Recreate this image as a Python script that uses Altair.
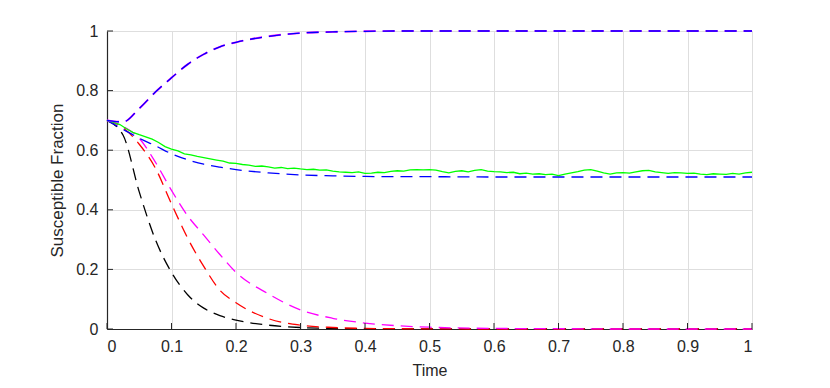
import altair as alt
import pandas as pd

# ---- data ----
t_main = [0.0, 0.025, 0.05, 0.075, 0.1, 0.125, 0.15, 0.175, 0.2, 0.25, 0.3, 0.35, 0.4, 0.45, 0.5, 0.6, 0.7, 0.8, 0.9, 1.0]
black = [0.70, 0.65, 0.46, 0.30, 0.19, 0.115, 0.07, 0.045, 0.03, 0.013, 0.005, 0.002, 0.001, 0.0005, 0.0, 0.0, 0.0, 0.0, 0.0, 0.0]
red = [0.70, 0.675, 0.62, 0.54, 0.42, 0.305, 0.21, 0.13, 0.088, 0.035, 0.013, 0.005, 0.002, 0.001, 0.0005, 0.0, 0.0, 0.0, 0.0, 0.0]
magenta_low = [0.70, 0.68, 0.64, 0.56, 0.465, 0.38, 0.315, 0.25, 0.19, 0.118, 0.064, 0.036, 0.02, 0.011, 0.006, 0.002, 0.001, 0.0, 0.0, 0.0]
blue_low = [0.70, 0.67, 0.64, 0.615, 0.588, 0.568, 0.553, 0.543, 0.535, 0.524, 0.517, 0.514, 0.512, 0.511, 0.511, 0.51, 0.51, 0.51, 0.51, 0.51]
top_curve = [0.70, 0.695, 0.74, 0.795, 0.843, 0.888, 0.922, 0.947, 0.962, 0.982, 0.993, 0.997, 0.999, 1.0, 1.0, 1.0, 1.0, 1.0, 1.0, 1.0]

t_green = [round(i * 0.01, 2) for i in range(101)]
green = [0.70, 0.693, 0.686, 0.672, 0.66, 0.652, 0.645, 0.637, 0.626, 0.612,
         0.604, 0.598, 0.588, 0.584, 0.579, 0.575, 0.571, 0.567, 0.563, 0.557,
         0.556, 0.552, 0.55, 0.546, 0.547, 0.544, 0.54, 0.542, 0.538, 0.54,
         0.537, 0.535, 0.536, 0.533, 0.534, 0.530, 0.527, 0.526, 0.525, 0.527,
         0.522, 0.523, 0.526, 0.525, 0.529, 0.531, 0.530, 0.534, 0.535, 0.534,
         0.535, 0.533, 0.528, 0.524, 0.529, 0.531, 0.527, 0.532, 0.535, 0.530,
         0.528, 0.527, 0.525, 0.526, 0.521, 0.523, 0.52, 0.521, 0.518, 0.52,
         0.515, 0.52, 0.524, 0.528, 0.533, 0.535, 0.53, 0.524, 0.52, 0.524,
         0.525, 0.523, 0.527, 0.531, 0.532, 0.527, 0.525, 0.522, 0.525, 0.524,
         0.522, 0.523, 0.52, 0.518, 0.521, 0.52, 0.519, 0.522, 0.52, 0.524, 0.526]

x_ticks = [round(i * 0.1, 1) for i in range(11)]
y_ticks = [0, 0.2, 0.4, 0.6, 0.8, 1.0]

# name, t, values, colour, dashed, width
series = [
    ("black", t_main, black, "#000000", True, 1.3),
    ("red", t_main, red, "#ff0000", True, 1.3),
    ("magenta_low", t_main, magenta_low, "#ff00ff", True, 1.3),
    ("blue_low", t_main, blue_low, "#0000ff", True, 1.3),
    ("green", t_green, green, "#00ff00", False, 1.3),
    ("magenta_top", t_main, top_curve, "#ff00ff", True, 1.9),
    ("blue_top", t_main, top_curve, "#0000ff", True, 1.3),
]

AXIS_COL = "#262626"
GRID_COL = "#dedede"
FONT = "Liberation Sans"

xs = alt.Scale(domain=[0, 1], nice=False)
ys = alt.Scale(domain=[0, 1], nice=False)

base_x = alt.X("t:Q", scale=xs, title="Time",
               axis=alt.Axis(values=x_ticks, format="~g", grid=True, gridColor=GRID_COL,
                             domainColor=AXIS_COL, domainWidth=1.2, tickSize=0,
                             labelFontSize=16, labelColor=AXIS_COL, labelPadding=9, labelFont=FONT,
                             titleFontSize=16, titleFontWeight="normal", titleColor=AXIS_COL,
                             titleFont=FONT, titlePadding=8))
base_y = alt.Y("v:Q", scale=ys, title="Susceptible Fraction",
               axis=alt.Axis(values=y_ticks, format="~g", grid=True, gridColor=GRID_COL,
                             domainColor=AXIS_COL, domainWidth=1.2, tickSize=0,
                             labelFontSize=16, labelColor=AXIS_COL, labelPadding=9, labelFont=FONT,
                             titleFontSize=17, titleFontWeight="normal", titleColor=AXIS_COL,
                             titleFont=FONT, titlePadding=9))

layers = []
for i, (name, ts, vs, col, dashed, w) in enumerate(series):
    df = pd.DataFrame({"t": ts, "v": vs})
    if i == 0:
        enc = dict(x=base_x, y=base_y)
    else:
        enc = dict(x=alt.X("t:Q", scale=xs), y=alt.Y("v:Q", scale=ys))
    if dashed:
        mk = alt.Chart(df).mark_line(color=col, strokeWidth=w, strokeDash=[12, 7],
                                     interpolate="monotone")
    else:
        mk = alt.Chart(df).mark_line(color=col, strokeWidth=w)
    layers.append(mk.encode(**enc))

# inward tick marks (MATLAB style)
xt = pd.DataFrame({"t": x_ticks})
yt = pd.DataFrame({"v": y_ticks})
xtick_layer = alt.Chart(xt).mark_rule(color=AXIS_COL, strokeWidth=1).encode(
    x=alt.X("t:Q", scale=xs), y=alt.value(298), y2=alt.value(292))
ytick_layer = alt.Chart(yt).mark_rule(color=AXIS_COL, strokeWidth=1).encode(
    y=alt.Y("v:Q", scale=ys), x=alt.value(0), x2=alt.value(6))

chart = alt.layer(*layers, xtick_layer, ytick_layer).properties(
    width=645, height=298,
    autosize=alt.AutoSizeParams(type="none"),
    padding={"left": 99, "top": 23, "right": 70, "bottom": 51},
).configure_view(stroke=None).configure(background="white")

chart.save("out.html", embed_options={"renderer": "svg", "actions": False})
